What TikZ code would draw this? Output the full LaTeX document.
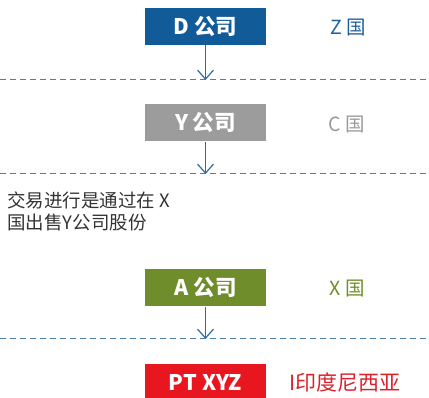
\documentclass[tikz,border=0pt]{standalone}
\usepackage{fontspec}
\setmainfont{Noto Sans CJK SC}
\usetikzlibrary{arrows.meta}
\definecolor{dblue}{HTML}{125B99}
\definecolor{ygrey}{HTML}{9C9C9C}
\definecolor{agreen}{HTML}{6F8D2B}
\definecolor{pred}{HTML}{E8161F}
\definecolor{zblue}{HTML}{2060A0}
\definecolor{cgrey}{HTML}{9A9A9A}
\definecolor{xgreen}{HTML}{6F8D2B}
\definecolor{ired}{HTML}{D8222C}
\definecolor{arrblue}{HTML}{2C6CA6}
\definecolor{dashcol}{HTML}{4F80A8}
\tikzset{
  x=1pt,y=1pt,
  cbox/.style={minimum width=121pt,minimum height=37pt,inner sep=0pt,text=white,font=\fontsize{21.5}{21.5}\selectfont\bfseries},
  clabel/.style={inner sep=0pt,font=\fontsize{19.5}{19.5}\selectfont},
  sepline/.style={dashcol,line width=1pt,dash pattern=on 6pt off 4pt},
  flow/.style={arrblue,line width=1.2pt,-{Straight Barb[length=9pt,width=16pt,line width=1.2pt]}}
}
\begin{document}
\begin{tikzpicture}
\useasboundingbox (0,0) rectangle (429,398);
\clip (0,0) rectangle (429,398);
\node[cbox,fill=dblue] (d) at (205.5,371.5) {D 公司};
\node[cbox,fill=ygrey] (y) at (205.5,275) {Y 公司};
\node[cbox,fill=agreen] (a) at (205.5,110) {A 公司};
\node[cbox,fill=pred] (pt) at (205.5,15.5) {PT XYZ};
\node[clabel,text=zblue] (zl) at (348,370) {Z 国};
\node[clabel,text=cgrey] (cl) at (347,273) {C 国};
\node[clabel,text=xgreen] (xl) at (347,109) {X 国};
\node[clabel,text=ired,anchor=west,font=\fontsize{21}{21}\selectfont] (il) at (289,16) {I印度尼西亚};
\node[anchor=north west,inner sep=0pt,align=left,text=black!80,font=\fontsize{18.5}{21.5}\selectfont] (note) at (7,206) {交易进行是通过在 X\\国出售Y公司股份};
\coordinate (l1a) at (0,318); \coordinate (l1b) at (429,318);
\coordinate (l2a) at (0,224); \coordinate (l2b) at (429,224);
\coordinate (l3a) at (0,59); \coordinate (l3b) at (429,59);
\draw[sepline] (l1a) -- (l1b);
\draw[sepline] (l2a) -- (l2b);
\draw[sepline] (l3a) -- (l3b);
\draw[flow] (d.south) -- (d.south |- l1a);
\draw[flow] (y.south) -- (y.south |- l2a);
\draw[flow] (a.south) -- (a.south |- l3a);
\end{tikzpicture}
\end{document}
